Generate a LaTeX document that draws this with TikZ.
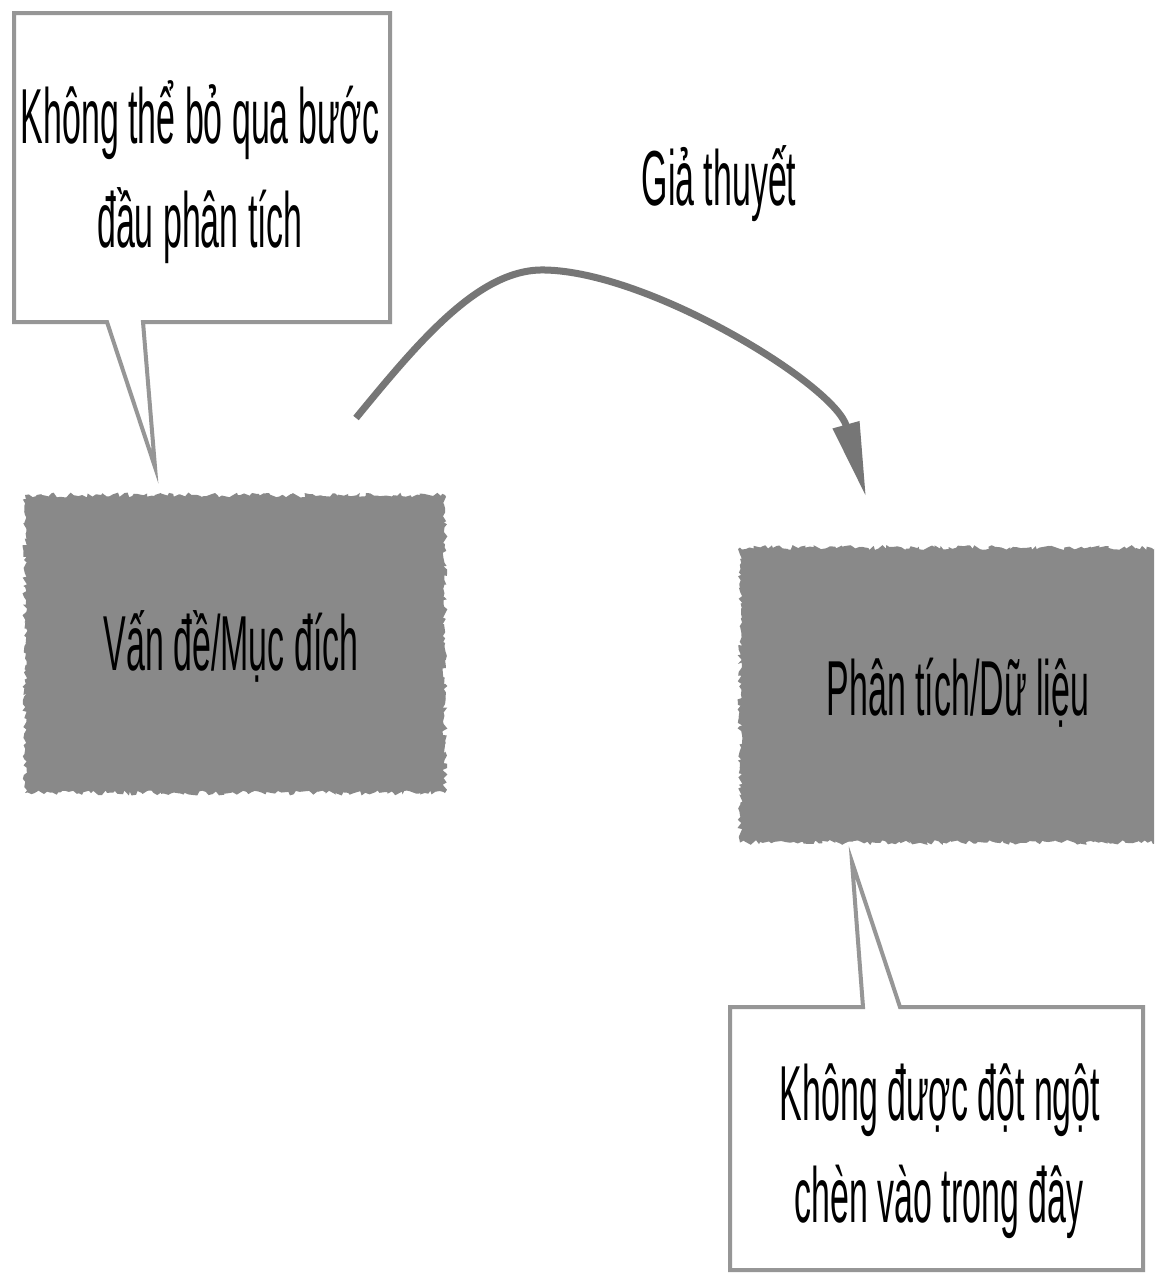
\documentclass[tikz,border=0pt]{standalone}
\usepackage{fontspec}
\setmainfont{Liberation Sans}
\newfontfamily\narrowsans[FakeStretch=0.435]{Liberation Sans}
\usetikzlibrary{arrows.meta,decorations.pathmorphing}
\definecolor{boxgray}{RGB}{137,137,137}
\definecolor{arcgray}{RGB}{118,118,118}
\definecolor{notegray}{RGB}{150,150,150}
\begin{document}
\begin{tikzpicture}[x=1pt,y=-1pt,
  txt/.style={font=\narrowsans\fontsize{78}{90}\selectfont, inner sep=0pt, anchor=base, text=black},
  roughbox/.style={fill=boxgray, inner sep=0pt, decorate,
    decoration={random steps, segment length=3pt, amplitude=2.5pt}},
  note/.style={draw=notegray, line width=4pt, fill=white, line join=miter},
  arc/.style={draw=arcgray, line width=7pt, -{Triangle[length=75pt,width=26pt]}}]
\pgfmathsetseed{7}
\clip (0,0) rectangle (1154,1274);
\fill[white] (0,0) rectangle (1154,1274);

% the two stages
\node[roughbox, minimum width=420pt, minimum height=298pt] (problem) at (235,644) {};
\node[txt] (problemtext) at (231,670) {Vấn đề/Mục đích};

\node[roughbox, minimum width=436pt, minimum height=295pt] (analysis) at (958,695) {};
\node[txt] (analysistext) at (958,715) {Phân tích/Dữ liệu};

% hypothesis arc
\coordinate (arcstart) at (356,418);
\coordinate (arcpeak) at (545,270);
\coordinate (arcend) at (866,497);
\draw[arc] (arcstart) .. controls (420,340) and (480,268) .. (arcpeak)
  .. controls (650,272) and (835,385) .. (arcend);
\node[txt] (hypothesis) at (719,205) {Giả thuyết};

% callout above the problem box
\draw[note] (14,13) -- (390,13) -- (390,322) -- (143,322) -- (155,467)
  -- (107,322) -- (14,322) -- cycle;
\node[txt] (note1a) at (200,143) {Không thể bỏ qua bước};
\node[txt] (note1b) at (200,247) {đầu phân tích};

% callout below the analysis box
\draw[note] (730,1007) -- (863,1007) -- (852,862) -- (900,1007) -- (1143,1007)
  -- (1143,1270) -- (730,1270) -- cycle;
\node[txt] (note2a) at (940,1120) {Không được đột ngột};
\node[txt] (note2b) at (939,1222) {chèn vào trong đây};
\end{tikzpicture}
\end{document}
